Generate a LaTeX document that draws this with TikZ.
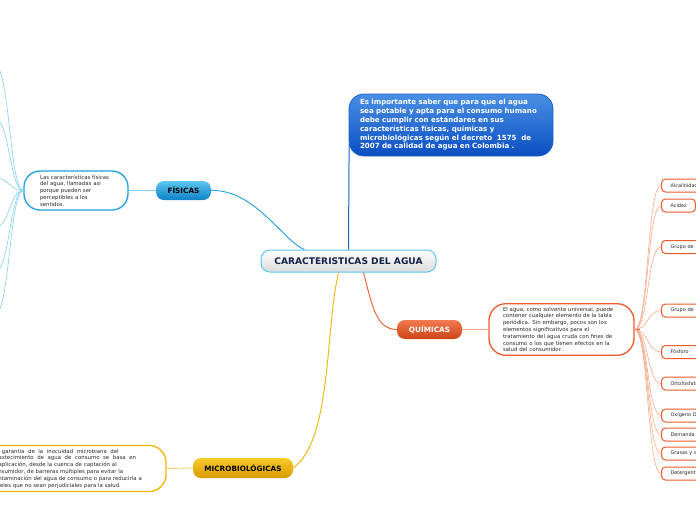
\documentclass[tikz,border=0pt]{standalone}
\usepackage{fontspec}
\setmainfont{DejaVu Sans}
\usetikzlibrary{calc}
\definecolor{navy}{HTML}{13224A}
\definecolor{fblue}{HTML}{1E9FE0}
\definecolor{fblueL}{HTML}{5CC6F2}
\definecolor{fblueD}{HTML}{0C82C6}
\definecolor{flink}{HTML}{7FD0F2}
\definecolor{qor}{HTML}{EE5A2A}
\definecolor{qorL}{HTML}{F27A4E}
\definecolor{qorD}{HTML}{CC4418}
\definecolor{qlink}{HTML}{F9A888}
\definecolor{myel}{HTML}{F2B300}
\definecolor{myelL}{HTML}{F9CB2A}
\definecolor{myelD}{HTML}{D99A00}
\definecolor{mlink}{HTML}{F8CF6A}
\definecolor{tblueL}{HTML}{4A8FE4}
\definecolor{tblueD}{HTML}{0B4FC2}
\definecolor{tline}{HTML}{1760C8}
\definecolor{txtgray}{HTML}{2A2A2A}
\tikzset{
  mainbox/.style={draw=fblueL, line width=1pt, rounded corners=9pt, top color=white, bottom color=gray!28,
    minimum width=175pt, minimum height=22pt, text=navy, font=\bfseries\fontsize{9.1}{10}\selectfont},
  topbox/.style={draw=tline, line width=0.8pt, rounded corners=15pt, top color=tblueL, bottom color=tblueD,
    minimum width=204pt, minimum height=62pt, text width=182pt, align=left, text=white,
    font=\bfseries\fontsize{7.1}{8.8}\selectfont},
  catbox/.style={rounded corners=8pt, minimum height=19pt, font=\bfseries\fontsize{7.3}{8}\selectfont},
  descbox/.style={draw, fill=white, line width=1.3pt, rounded corners=17pt, align=left, text=txtgray,
    font=\fontsize{5.4}{6.8}\selectfont},
  leafbox/.style={draw=qor, line width=1pt, fill=white, rounded corners=4pt, minimum height=13pt,
    anchor=west, inner xsep=9pt, inner ysep=0pt, align=left, text=txtgray, font=\fontsize{5}{6}\selectfont},
  flnk/.style={draw=flink, line width=0.6pt},
  qlnk/.style={draw=qlink, line width=0.6pt},
}
\begin{document}
\begin{tikzpicture}[x=1pt,y=-1pt]
\useasboundingbox (0,0) rectangle (696,520);
% central
\node[mainbox] (c) at (348.5,261) {CARACTERISTICAS DEL AGUA};
% top box
\node[topbox] (t) at (451,125) {Es importante saber que para que el agua\\sea potable y apta para el consumo humano\\debe cumplir con estándares en sus\\características físicas, químicas y\\microbiológicas según el decreto~~1575~~de\\2007 de calidad de agua en Colombia .};
% categories
\node[catbox, top color=fblueL, bottom color=fblueD, minimum width=55pt, text=black] (f) at (183.5,190.5) {FÍSICAS};
\node[catbox, top color=qorL, bottom color=qorD, minimum width=65pt, text=white] (q) at (429.5,329.5) {QUÍMICAS};
\node[catbox, top color=myelL, bottom color=myelD, minimum width=100pt, minimum height=20pt, text=black] (m) at (243,468) {MICROBIOLÓGICAS};
% description boxes
\node[descbox, draw=fblue, minimum width=104pt, minimum height=39pt, text width=72pt, rounded corners=16pt] (fd) at (76,190.5)
  {Las características físicas\\del agua, llamadas así\\porque pueden ser\\perceptibles a los\\sentidos.};
\node[descbox, draw=qor, minimum width=145pt, minimum height=51pt, text width=117pt] (qd) at (561.5,329.5)
  {El agua, como solvente universal, puede\\contener cualquier elemento de la tabla\\periódica. Sin embargo, pocos son los\\elementos significativos para el\\tratamiento del agua cruda con fines de\\consumo o los que tienen efectos en la\\salud del consumidor.};
\node[descbox, draw=myel, minimum width=196pt, minimum height=45pt, text width=152pt] (md) at (68,468.5)
  {La~~garantía~~de~~la~~inocuidad~~microbiana~~del\\abastecimiento~~de~~agua~~de~~consumo~~se~~basa~~en\\la aplicación, desde la cuenca de captación al\\consumidor, de barreras múltiples para evitar la\\contaminación del agua de consumo o para reducirla a\\niveles que no sean perjudiciales para la salud.};
% leaves (químicas)
\node[leafbox, text width=60pt] (l1) at (661,185.5) {Alcalinidad};
\node[leafbox, text width=16pt] (l2) at (661,205.5) {Acidez};
\node[leafbox, text width=60pt] (l3) at (661,247) {Grupo de};
\node[leafbox, text width=60pt] (l4) at (661,310.5) {Grupo de};
\node[leafbox, text width=60pt] (l5) at (661,352) {Fósforo};
\node[leafbox, text width=60pt] (l6) at (661,383.5) {Ortofosfatos};
\node[leafbox, text width=60pt] (l7) at (661,415.5) {Oxígeno Disuelto};
\node[leafbox, text width=60pt] (l8) at (661,434.5) {Demanda};
\node[leafbox, text width=60pt] (l9) at (661,453.5) {Grasas y aceites};
\node[leafbox, text width=60pt] (l10) at (661,473.5) {Detergentes};
% off-canvas ends for físicas
\coordinate (e1) at (-6,64);
\coordinate (e2) at (-6,118);
\coordinate (e3) at (-6,178);
\coordinate (e4) at (-6,228);
\coordinate (e5) at (-6,273);
\coordinate (e6) at (-6,316);
% main connectors
\draw[tline, line width=1pt] (c.north) -- ($(t.south west)+(0.5,-12)$);
\draw[fblue, line width=0.9pt] (f.east) .. controls (255,189) and (285,243) .. ($(c.north west)+(44,0)$);
\draw[qor, line width=0.9pt] ($(c.south)+(15,0)$) .. controls (372,305) and (376,329.5) .. (q.west);
\draw[myel, line width=0.9pt] ($(c.south)+(-10,0)$) .. controls (325,330) and (332,440) .. (m.east);
% category to description
\draw[flink, line width=0.9pt] (f.west) -- (fd.east);
\draw[qlink, line width=0.9pt] (q.east) -- (qd.west);
\draw[mlink, line width=0.9pt] (m.west) -- (md.east);
% físicas fan
\foreach \e in {e1,e2,e3,e4,e5,e6}
  \draw[flnk] (fd.west) .. controls +(-14,0) and +(16,0) .. (\e);
% químicas fan
\draw[qor, line width=1.2pt] (qd.east) -- ++(5,0);
\foreach \l in {l1,l2,l3,l4,l5,l6,l7,l8,l9,l10}
  \draw[qlnk] (qd.east) .. controls +(14,0) and +(-14,0) .. (\l.west);
\end{tikzpicture}
\end{document}
